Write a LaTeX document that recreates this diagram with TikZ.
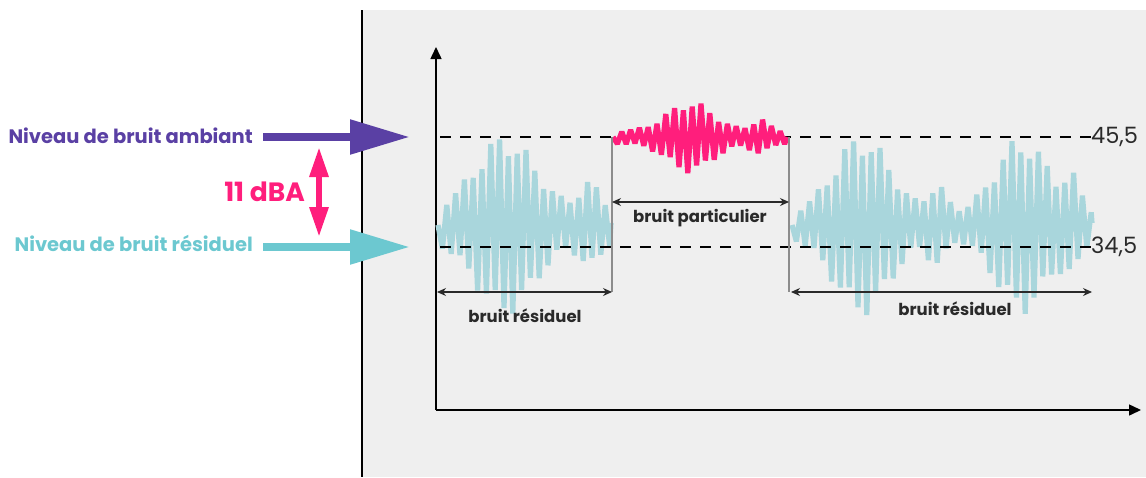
\documentclass[tikz,border=0pt]{standalone}
\usepackage{fontspec}
\setmainfont{Poppins}
\usetikzlibrary{arrows.meta}

\definecolor{ambiant}{HTML}{5A40A4}
\definecolor{residuel}{HTML}{6CC8D0}
\definecolor{bruitres}{HTML}{A9D6DC}
\definecolor{particulier}{HTML}{FF1E7C}
\definecolor{fond}{HTML}{EFEFEF}
\definecolor{texte}{HTML}{2A2A2A}

\begin{document}
\begin{tikzpicture}[
    x=1pt, y=-1pt,
    % envelopes of the three noise signals
    declare function={
      envl(\x)=14+66*exp(-((\x-505)/42)^2)+24*exp(-((\x-590)/15)^2);
      envr(\x)=10+70*exp(-((\x-862)/40)^2)+25*exp(-((\x-937)/13)^2)
               +68*exp(-((\x-1022)/38)^2)+25*exp(-((\x-1073)/12)^2);
      envp(\x)=6+26*exp(-((\x-690)/32)^2)+10*exp(-((\x-760)/12)^2);
      sgn(\i)=2*mod(\i,2)-1;
      irr(\i)=1+0.15*sin(\i*131);
    },
    axis/.style={line width=1.5pt, -{Triangle[length=12pt,width=11pt]}},
    level/.style={line width=2pt, dash pattern=on 11pt off 9pt},
    limit/.style={line width=1.5pt, black!45},
    span/.style={line width=1.2pt, texte,
      {Stealth[length=9pt,width=8pt]}-{Stealth[length=9pt,width=8pt]}},
    noise/.style={line width=5.2pt, line join=bevel},
    bigarrow/.style={line width=8.5pt, shorten <=10pt,
      -{Triangle[length=60pt,width=33pt]}},
    side/.style={font=\fontsize{19.5}{22}\selectfont\bfseries, anchor=base east, inner sep=0},
    spanlabel/.style={font=\fontsize{16.5}{19}\selectfont\bfseries, texte, inner sep=0},
    value/.style={font=\fontsize{22.5}{26}\selectfont, texte, anchor=west, inner sep=0}
  ]
  \useasboundingbox (0,0) rectangle (1146,477);

  % chart panel
  \fill[fond] (363,10) rectangle (1146,477);
  \draw[line width=2pt] (362,10) -- (362,477);

  % axes
  \coordinate (origin) at (436,410);
  \coordinate (ytop) at (436,47);
  \coordinate (xend) at (1141,410);
  \draw[axis] (origin) -- (ytop);
  \draw[axis] (origin) -- (xend);

  % residual noise, before and after
  \draw[noise, bruitres] (438,225)
    \foreach \i in {1,...,39}{ -- ({438+4.4*\i},{225+sgn(\i)*irr(\i)*envl(438+4.4*\i)}) }
    -- (611,223);
  \draw[noise, bruitres] (792,225)
    \foreach \i in {1,...,68}{ -- ({792+4.4*\i},{225+sgn(\i)*irr(\i)*envr(792+4.4*\i)}) }
    -- (1092,223);

  % levels
  \node[value] (haut) at (1091,137) {45,5};
  \node[value] (bas) at (1091,247) {34,5};
  \coordinate (hautdeb) at (440,137);
  \coordinate (basdeb) at (440,247);
  \draw[level] (hautdeb) -- (haut.west);
  \draw[level] (basdeb) -- (bas.west);

  % particular noise on top of the ambient level
  \draw[noise, particulier] (613,137)
    \foreach \i in {1,...,39}{ -- ({613+4.4*\i},{137+sgn(\i)*irr(\i)*envp(613+4.4*\i)}) }
    -- (787,137);

  % limits of the particular noise
  \coordinate (debut) at (612,137);
  \coordinate (debutbas) at (612,292);
  \coordinate (fin) at (789,137);
  \coordinate (finbas) at (789,292);
  \draw[limit] (debut) -- (debutbas);
  \draw[limit] (fin) -- (finbas);

  % durations
  \coordinate (gauche) at (437,292);
  \coordinate (droite) at (1092,292);
  \coordinate (partdeb) at (612,202);
  \coordinate (partfin) at (789,202);
  \draw[span] (gauche) -- (debutbas);
  \draw[span] (partdeb) -- (partfin);
  \draw[span] ([xshift=2pt]finbas) -- (droite);
  \node[spanlabel] (resg) at (525,316) {bruit résiduel};
  \node[spanlabel] (part) at (700,218) {bruit particulier};
  \node[spanlabel] (resd) at (955,309) {bruit résiduel};

  % levels on the left side
  \node[side, ambiant] (amb) at (253,143) {Niveau de bruit ambiant};
  \node[side, residuel] (res) at (253,251) {Niveau de bruit résiduel};
  \coordinate (ambtip) at (410,137);
  \coordinate (restip) at (410,247);
  \draw[bigarrow, ambiant] (amb.east |- ambtip) -- (ambtip);
  \draw[bigarrow, residuel] (res.east |- restip) -- (restip);

  % difference between both levels
  \coordinate (ecarthaut) at (319,147);
  \coordinate (ecartbas) at (319,237);
  \draw[particulier, line width=6pt,
    {Triangle[length=30pt,width=18pt]}-{Triangle[length=30pt,width=18pt]}]
    (ecarthaut) -- (ecartbas);
  \node[font=\fontsize{26.5}{30}\selectfont\bfseries, particulier, anchor=east, inner sep=0]
    (ecart) at (305,192) {11 dBA};
\end{tikzpicture}
\end{document}
